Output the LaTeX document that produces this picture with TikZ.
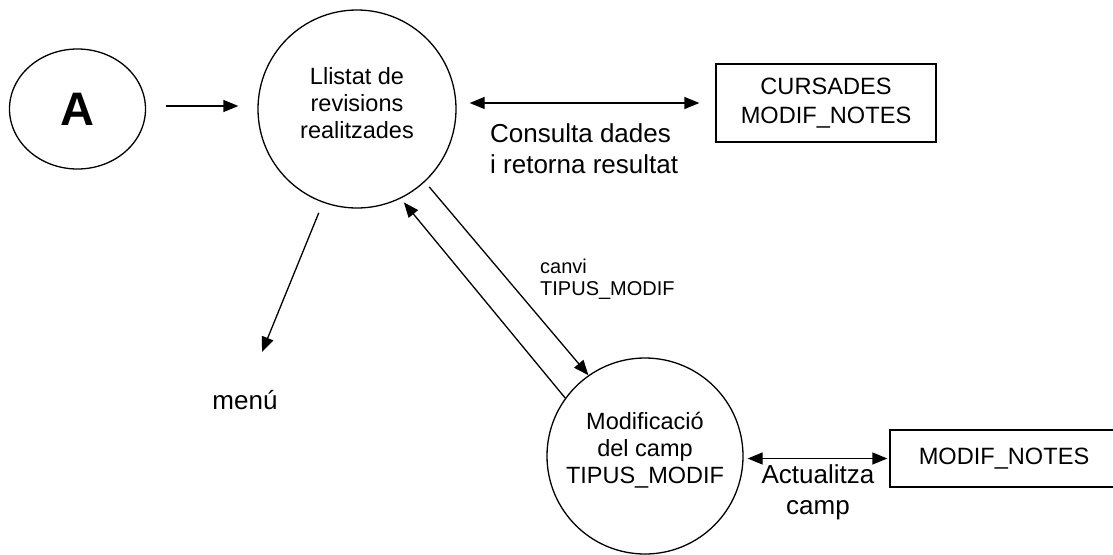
\documentclass[tikz,border=0pt]{standalone}
\usepackage{fontspec}
\setmainfont{Liberation Sans}
\usetikzlibrary{arrows.meta,shapes.geometric}
\tikzset{
  lw/.style={line width=1.3pt},
  flow/.style={lw, -{Triangle[length=15pt,width=12pt]}},
  both/.style={lw, {Triangle[length=15pt,width=12pt]}-{Triangle[length=15pt,width=12pt]}},
  proc/.style={draw, lw, circle, inner sep=0pt, minimum size=#1},
  store/.style={draw, lw, rectangle, inner sep=0pt, align=center},
  ntext/.style={align=center, font=\fontsize{23.5}{27}\selectfont, inner sep=0pt},
  flab/.style={font=\fontsize{26}{31}\selectfont, inner sep=0pt},
  slab/.style={font=\fontsize{20}{22.5}\selectfont, inner sep=0pt, align=left}
}
\begin{document}
\begin{tikzpicture}[x=1pt,y=-1pt]
\useasboundingbox (0,0) rectangle (1113,554);
% nodes
\node[draw, lw, ellipse, inner sep=0pt, minimum width=136pt, minimum height=120pt,
      font=\fontsize{47}{50}\selectfont\bfseries] (A) at (77.5,109) {A};
\node[proc=198pt, label={[ntext, yshift=5.5pt]center:{Llistat de\\revisions\\realitzades}}] (L) at (357,109) {};
\node[proc=196pt, label={[ntext, yshift=6pt]center:{Modificació\\del camp\\TIPUS\_MODIF}}] (M) at (645,456) {};
\node[store, minimum width=220pt, minimum height=78pt, font=\fontsize{23.6}{29}\selectfont] (R) at (826,103) {CURSADES\\MODIF\_NOTES};
\node[store, minimum width=228pt, minimum height=57pt, font=\fontsize{23.6}{29}\selectfont] (N) at (1004,458.5) {MODIF\_NOTES};
% labels
\node[flab, anchor=west, align=left] (consulta) at (490,149) {Consulta dades\\i retorna resultat};
\node[flab] (menu) at (245,400) {menú};
\node[slab, anchor=west] (canvi) at (540,279) {canvi\\TIPUS\_MODIF};
\node[flab, align=center] (actualitza) at (818,492.5) {Actualitza\\camp};
\coordinate (mtip) at (262,352);
% connectors
\draw[flow, shorten <=20pt, shorten >=19pt] ([yshift=3pt]A.east) -- ([yshift=3pt]L.west);
\draw[both, shorten <=13pt, shorten >=16pt] (L.east |- R.west) -- (R.west);
\draw[flow, shorten <=11pt] (L.-110.7) -- (mtip);
\draw[flow, shorten <=6.5pt] (L.-47.7) -- (M.125.8);
\draw[flow, shorten >=5pt] (M.144.7) -- (L.-64.4);
\draw[both, shorten <=4pt, shorten >=2pt] (M.east |- N.west) -- (N.west);
\end{tikzpicture}
\end{document}
